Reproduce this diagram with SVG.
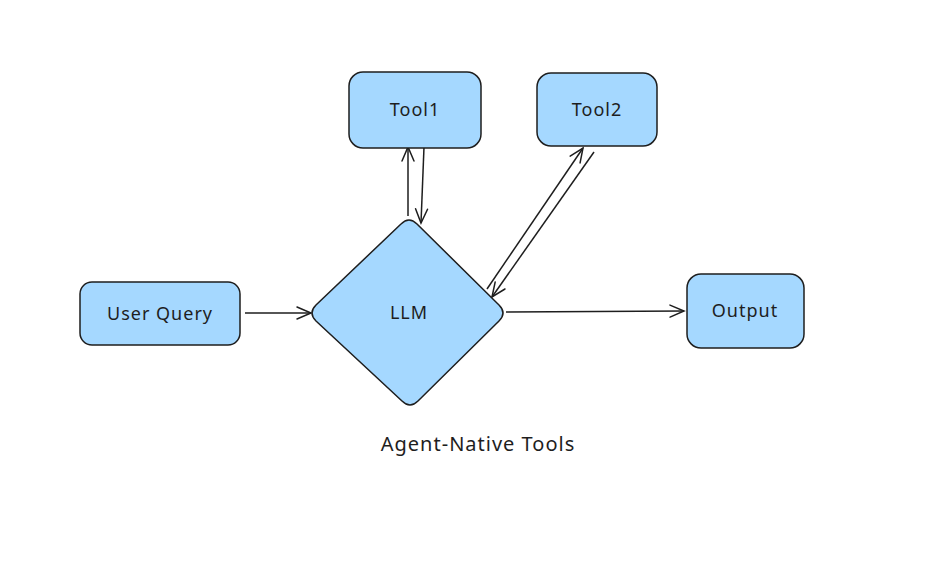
<svg xmlns="http://www.w3.org/2000/svg" width="949" height="566" viewBox="0 0 949 566">
<style>
.box{fill:#a5d8ff;stroke:#1e1e1e;stroke-width:1.5}
.lbl{font-family:"Noto Sans","Liberation Sans",sans-serif;font-size:18px;letter-spacing:1px;fill:#1e1e1e;text-anchor:middle;dominant-baseline:central}
.con{stroke:#1e1e1e;stroke-width:1.5;fill:none;marker-end:url(#ah)}
</style>
<defs>
<marker id="ah" viewBox="0 0 20 20" refX="18" refY="10" markerWidth="20" markerHeight="20" markerUnits="userSpaceOnUse" orient="auto">
<polyline points="4,4 18,10 4,16" fill="none" stroke="#1e1e1e" stroke-width="1.5" stroke-linecap="round"/>
</marker>
</defs>
<rect width="949" height="566" fill="#ffffff"/>
<g id="connectors">
<line class="con" x1="245" y1="313" x2="311" y2="313"/>
<line class="con" x1="506" y1="312" x2="684" y2="311"/>
<line class="con" x1="408" y1="216" x2="408" y2="147"/>
<line class="con" x1="424" y1="147" x2="421" y2="223"/>
<line class="con" x1="487" y1="289" x2="583" y2="148"/>
<line class="con" x1="594" y1="152" x2="492" y2="297"/>
</g>
<g id="tool1">
<rect class="box" x="349" y="72" width="132" height="76" rx="14"/>
<text class="lbl" x="415" y="109">Tool1</text>
</g>
<g id="tool2">
<rect class="box" x="537" y="73" width="120" height="73" rx="14"/>
<text class="lbl" x="597" y="109">Tool2</text>
</g>
<g id="userquery">
<rect class="box" x="80" y="282" width="160" height="63" rx="12"/>
<text class="lbl" x="160" y="313">User Query</text>
</g>
<g id="llm">
<path class="box" d="M401,224 Q409,216 417,224 L499,305 Q507,313 499,321 L418,401 Q410,409 402,401 L316,321 Q308,313 316,305 Z"/>
<text class="lbl" x="409" y="312">LLM</text>
</g>
<g id="output">
<rect class="box" x="687" y="274" width="117" height="74" rx="14"/>
<text class="lbl" x="745" y="310">Output</text>
</g>
<g id="caption">
<text class="lbl" x="478" y="443" style="font-size:20px">Agent-Native Tools</text>
</g>
</svg>
